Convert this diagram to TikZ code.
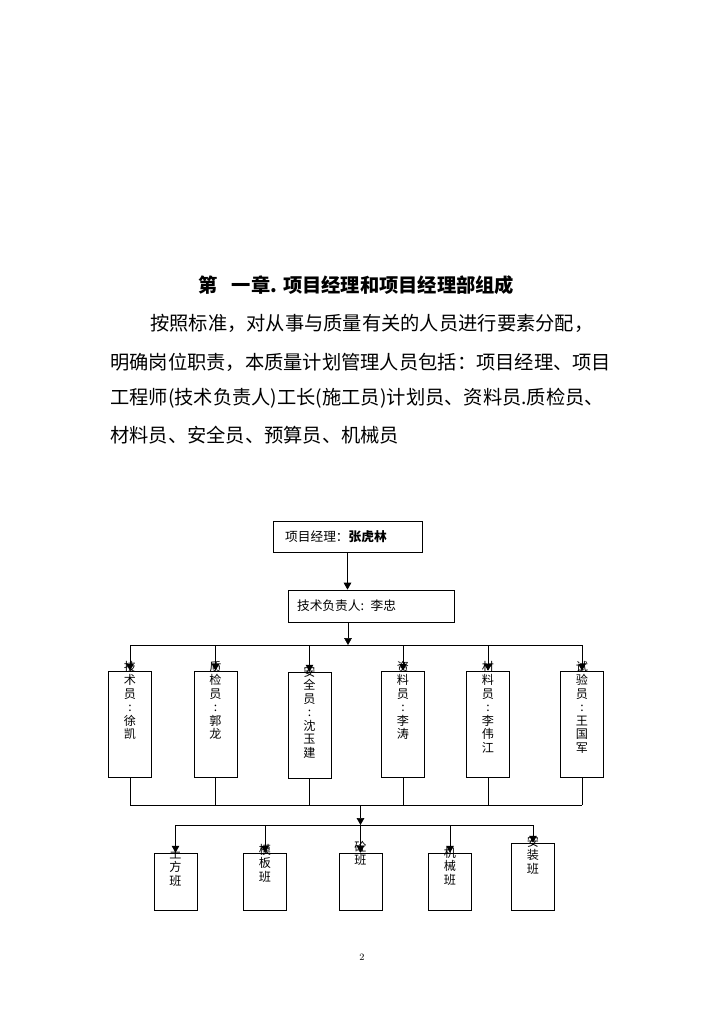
\documentclass[tikz,border=0pt]{standalone}
\usepackage{fontspec}
\newfontfamily\cjk{Noto Sans CJK SC}
\usepackage{tikz}
\usetikzlibrary{positioning,arrows.meta}

\begin{document}
\begin{tikzpicture}[
    x=0.029cm, y=-0.029cm,
    bodytext/.style={font=\cjk\fontsize{15.9}{18}\selectfont, anchor=west, inner sep=0pt},
    headbox/.style={draw, line width=0.6pt, font=\cjk\fontsize{10.5}{12}\selectfont, align=left},
    staffbox/.style={draw, line width=0.6pt, minimum width=1.25cm, minimum height=3.07cm},
    teambox/.style={draw, line width=0.6pt, minimum width=1.25cm, minimum height=1.65cm},
    vtext/.style={font=\cjk\fontsize{10}{11.1}\selectfont, align=center, anchor=north, inner sep=0pt},
    link/.style={line width=0.5pt},
    linkarrow/.style={line width=0.5pt, -{Triangle[length=2mm,width=2.2mm]}}
]

\useasboundingbox (0,0) rectangle (724,1024);

% Heading and running text
\node[bodytext, font=\cjk\bfseries\fontsize{15.9}{18}\selectfont] (title) at (198,285) {第\hspace{0.75em}一章.\hspace{0.3em}项目经理和项目经理部组成};
\node[bodytext] (line1) at (150,323) {按照标准，对从事与质量有关的人员进行要素分配，};
\node[bodytext] (line2) at (110,362) {明确岗位职责，本质量计划管理人员包括：项目经理、项目};
\node[bodytext] (line3) at (110,398) {工程师(技术负责人)工长(施工员)计划员、资料员.质检员、};
\node[bodytext] (line4) at (110,435) {材料员、安全员、预算员、机械员};

% Manager and technical lead
\node[headbox, text width=3.62cm, inner xsep=0.35cm, minimum height=0.9cm] (mgr) at (347.5,536.5) {项目经理：\textbf{张虎林}};
\node[headbox, text width=4.29cm, inner xsep=0.26cm, minimum height=0.93cm] (tech) at (371,606) {技术负责人: 李忠};

% Staff boxes (vertical text)
\node[staffbox] (sA) at (130,724) {};
\node[staffbox] (sB) at (215.5,724) {};
\node[staffbox] (sC) at (309.5,725) {};
\node[staffbox] (sD) at (403,724) {};
\node[staffbox] (sE) at (488,724) {};
\node[staffbox] (sF) at (582,724) {};
\node[vtext] (tA) at (130,661) {技\\术\\员\\:\\徐\\凯};
\node[vtext] (tB) at (215.5,661) {质\\检\\员\\:\\郭\\龙};
\node[vtext] (tC) at (309.5,666) {安\\全\\员\\:\\沈\\玉\\建};
\node[vtext] (tD) at (403,661) {资\\料\\员\\:\\李\\涛};
\node[vtext] (tE) at (488,661) {材\\料\\员\\:\\李\\伟\\江};
\node[vtext] (tF) at (582,661) {试\\验\\员\\:\\王\\国\\军};

% Work teams
\node[teambox] (bTu) at (175.5,881.5) {};
\node[teambox] (bMo) at (265,881.5) {};
\node[teambox] (bTo) at (360.5,881.5) {};
\node[teambox] (bJi) at (450,881.5) {};
\node[teambox, minimum height=1.94cm] (bAz) at (533,876.5) {};
\node[vtext] (tTu) at (175.5,848) {土\\方\\班};
\node[vtext] (tMo) at (265,844) {模\\板\\班};
\node[vtext] (tTo) at (360.5,841) {砼\\班};
\node[vtext] (tJi) at (450,847) {机\\械\\班};
\node[vtext] (tAz) at (533,836) {安\\装\\班};

\node[font=\fontsize{8}{9}\selectfont] (pageno) at (362,957) {2};

% Connections
\coordinate (bus1) at (348,645);
\coordinate (bus2) at (360.5,805);
\coordinate (bus3) at (360.5,825);

\draw[linkarrow] (mgr.south) -- (mgr.south |- tech.north);
\draw[linkarrow] (bus1 |- tech.south) -- (bus1);
\draw[link] (sA.north |- bus1) -- (sF.north |- bus1);
\draw[linkarrow] (sA.north |- bus1) -- (sA.north);
\draw[linkarrow] (sB.north |- bus1) -- (sB.north);
\draw[linkarrow] (sC.north |- bus1) -- (sC.north);
\draw[linkarrow] (sD.north |- bus1) -- (sD.north);
\draw[linkarrow] (sE.north |- bus1) -- (sE.north);
\draw[linkarrow] (sF.north |- bus1) -- (sF.north);

\draw[link] (sA.south) -- (sA.south |- bus2);
\draw[link] (sB.south) -- (sB.south |- bus2);
\draw[link] (sC.south) -- (sC.south |- bus2);
\draw[link] (sD.south) -- (sD.south |- bus2);
\draw[link] (sE.south) -- (sE.south |- bus2);
\draw[link] (sF.south) -- (sF.south |- bus2);
\draw[link] (sA.south |- bus2) -- (sF.south |- bus2);
\draw[linkarrow] (bus2) -- (bus3);

\draw[link] (bTu.north |- bus3) -- (bAz.north |- bus3);
\draw[linkarrow] (bTu.north |- bus3) -- (bTu.north);
\draw[linkarrow] (bMo.north |- bus3) -- (bMo.north);
\draw[linkarrow] (bTo.north |- bus3) -- (bTo.north);
\draw[linkarrow] (bJi.north |- bus3) -- (bJi.north);
\draw[linkarrow] (bAz.north |- bus3) -- (bAz.north);

\end{tikzpicture}
\end{document}
